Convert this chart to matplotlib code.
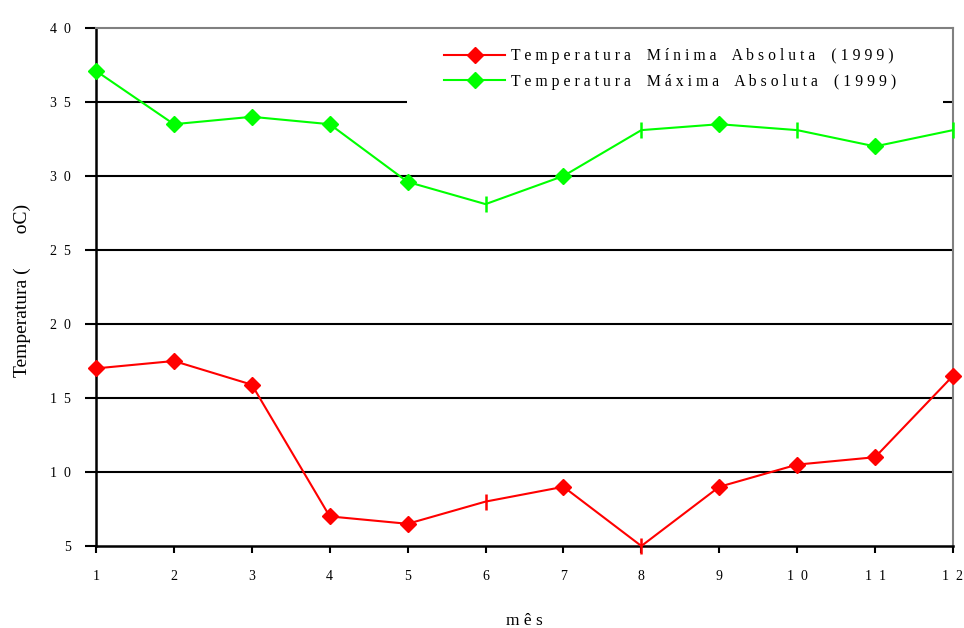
import matplotlib
matplotlib.use("Agg")
import matplotlib.pyplot as plt
from matplotlib.lines import Line2D
from matplotlib.patches import Rectangle

months = [1, 2, 3, 4, 5, 6, 7, 8, 9, 10, 11, 12]
temp_min = [17.0, 17.5, 15.9, 7.0, 6.5, 8.0, 9.0, 5.0, 9.0, 10.5, 11.0, 16.5]
temp_max = [37.1, 33.5, 34.0, 33.5, 29.6, 28.1, 30.0, 33.1, 33.5, 33.1, 32.0, 33.1]

# points drawn with a vertical tick instead of a diamond
tick_min = [5, 7]
tick_max = [5, 7, 9, 11]

x_ticks = [1, 2, 3, 4, 5, 6, 7, 8, 9, 10, 11, 12]
x_ticklabels = ["1", "2", "3", "4", "5", "6", "7", "8", "9", "1  0", "1  1", "1  2"]
y_ticks = [5, 10, 15, 20, 25, 30, 35, 40]
y_ticklabels = ["5", "1  0", "1  5", "2  0", "2  5", "3  0", "3  5", "4  0"]

label_min = "T e m p e r a t u r a    M í n i m a    A b s o l u t a    ( 1 9 9 9 )"
label_max = "T e m p e r a t u r a    M á x i m a    A b s o l u t a    ( 1 9 9 9 )"

RED = "#ff0000"
GREEN = "#00ff00"
SERIF = ["Liberation Serif", "DejaVu Serif"]

fig = plt.figure(figsize=(9.64, 6.28), dpi=100)
ax = fig.add_axes([96 / 964, 1 - 546 / 628, (953 - 96) / 964, (546 - 28) / 628])

ax.set_xlim(1, 12)
ax.set_ylim(5, 40)

# horizontal grid
for y in y_ticks[1:-1]:
    ax.axhline(y, color="black", lw=1.5, zorder=1)

# white box behind the legend
ax.add_patch(Rectangle(((407 - 96) / 857, (546 - 104) / 518),
                       (943 - 407) / 857, (104 - 31) / 518,
                       transform=ax.transAxes, facecolor="white",
                       edgecolor="none", zorder=2))


def draw_series(values, color, tick_idx):
    diamonds = [i for i in range(len(values)) if i not in tick_idx]
    ax.plot(months, values, color=color, lw=1.5, zorder=3, clip_on=False)
    ax.plot(months, values, ls="none", marker="D", ms=8.3, color=color,
            markevery=diamonds, zorder=4, clip_on=False)
    ax.plot(months, values, ls="none", marker="|", ms=12, mew=1.8,
            color=color, markevery=tick_idx, zorder=4, clip_on=False)


draw_series(temp_min, RED, tick_min)
draw_series(temp_max, GREEN, tick_max)

# spines
for side in ("top", "right"):
    ax.spines[side].set_color("#808080")
    ax.spines[side].set_linewidth(1.5)
for side in ("left", "bottom"):
    ax.spines[side].set_color("black")
    ax.spines[side].set_linewidth(1.8)

ax.set_xticks(x_ticks)
ax.set_xticklabels(x_ticklabels, fontfamily=SERIF, fontsize=10)
ax.set_yticks(y_ticks)
ax.set_yticklabels(y_ticklabels, fontfamily=SERIF, fontsize=10)
ax.tick_params(axis="x", direction="out", length=5, width=1.5, pad=12)
ax.tick_params(axis="y", direction="out", length=8, width=1.5, pad=10)

ax.set_xlabel("m ê s", fontfamily=SERIF, fontsize=12.5, va="center")
ax.xaxis.set_label_coords(0.5, (546 - 621) / 518)
ax.set_ylabel("Temperatura (       oC)", fontfamily=SERIF, fontsize=14)
ax.yaxis.set_label_coords((31 - 96) / 857, 0.494)

handles = [
    Line2D([], [], color=RED, lw=1.5, marker="D", ms=8.5),
    Line2D([], [], color=GREEN, lw=1.5, marker="D", ms=8.5),
]
leg = ax.legend(handles, [label_min, label_max], loc="upper left",
                bbox_to_anchor=((444 - 96) / 857, (546 - 48) / 518),
                frameon=False, borderpad=0, borderaxespad=0,
                handlelength=3.9, handletextpad=0.37, labelspacing=0.62,
                prop={"family": SERIF, "size": 11.3})
leg.set_zorder(5)

fig.savefig("out.png", dpi=100)
